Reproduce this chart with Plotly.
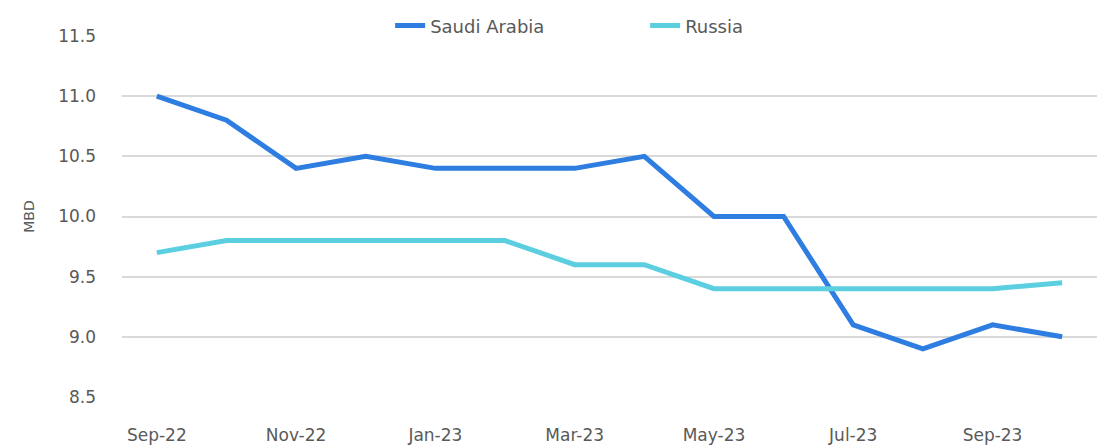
import plotly.graph_objects as go

# Monthly crude production, million barrels per day
months = ["Sep-22", "Oct-22", "Nov-22", "Dec-22", "Jan-23", "Feb-23", "Mar-23",
          "Apr-23", "May-23", "Jun-23", "Jul-23", "Aug-23", "Sep-23", "Oct-23"]
saudi = [11.0, 10.8, 10.4, 10.5, 10.4, 10.4, 10.4, 10.5, 10.0, 10.0, 9.1, 8.9, 9.1, 9.0]
russia = [9.7, 9.8, 9.8, 9.8, 9.8, 9.8, 9.6, 9.6, 9.4, 9.4, 9.4, 9.4, 9.4, 9.45]
tick_labels = months[::2]

font_family = "'DejaVu Sans', sans-serif"
text_color = "#595959"

fig = go.Figure()
fig.add_trace(go.Scatter(x=months, y=saudi, mode="lines", name="Saudi Arabia",
                         line=dict(color="#2E7DE0", width=5)))
fig.add_trace(go.Scatter(x=months, y=russia, mode="lines", name="Russia",
                         line=dict(color="#5BCFE0", width=5)))

# page body adds an 8px offset, so the figure is sized to fit inside the window
fig.update_layout(
    width=1099, height=440,
    paper_bgcolor="white", plot_bgcolor="white",
    margin=dict(l=114, r=10, t=28, b=51, autoexpand=False),
    font=dict(family=font_family, size=17, color=text_color),
    legend=dict(orientation="h", x=0.275, xanchor="left", y=1.028, yanchor="middle",
                font=dict(size=18, color=text_color), entrywidth=210,
                bgcolor="rgba(0,0,0,0)"),
    xaxis=dict(type="category", range=[-0.5, 13.5], tickvals=tick_labels,
               showgrid=False, showline=False, zeroline=False, ticks="",
               ticklabelstandoff=26, automargin=False),
    yaxis=dict(range=[8.5, 11.5], dtick=0.5, tickformat=".1f",
               showgrid=True, gridcolor="#D9D9D9", gridwidth=1.5,
               zeroline=False, showline=False, ticks="", ticklabelstandoff=25,
               automargin=False,
               title=dict(text="MBD", font=dict(size=14, color=text_color), standoff=20)),
)

fig.write_html("out.html")
